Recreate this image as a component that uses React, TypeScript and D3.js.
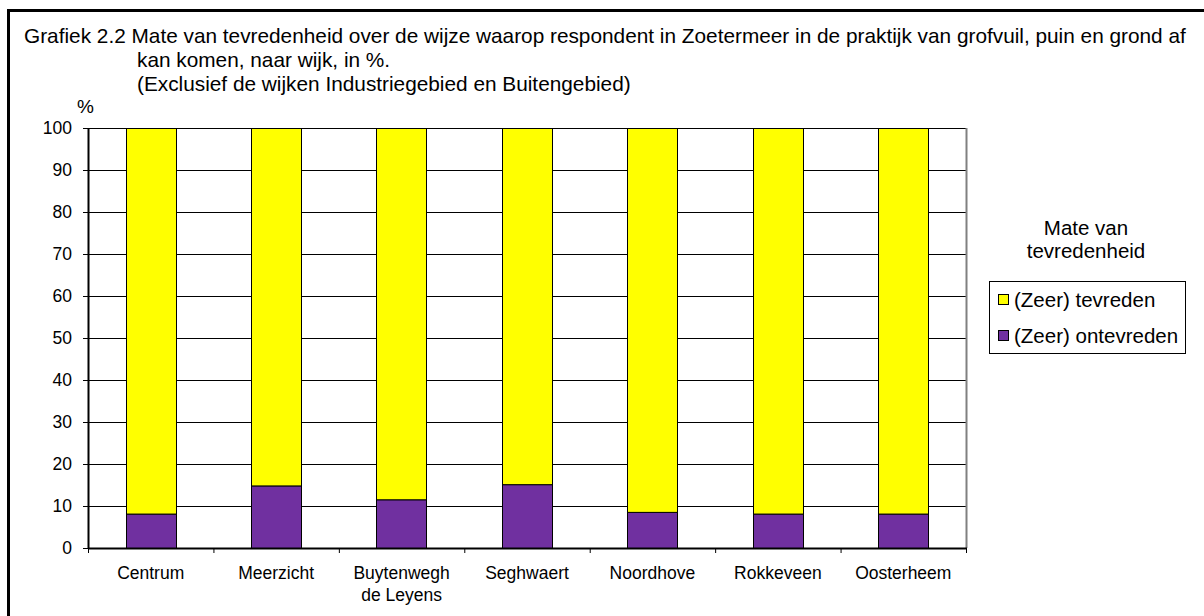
import {useEffect, useRef} from 'react';
import * as d3 from 'd3';

const wijken = ['Centrum', 'Meerzicht', 'Buytenwegh\nde Leyens', 'Seghwaert', 'Noordhove', 'Rokkeveen', 'Oosterheem'];
const ontevreden = [8.2, 14.9, 11.6, 15.2, 8.6, 8.2, 8.2];
const tevreden = ontevreden.map(v => 100 - v);
const yTicks = [0, 10, 20, 30, 40, 50, 60, 70, 80, 90, 100];
const titleLines = [
    'Grafiek 2.2  Mate van tevredenheid over de wijze waarop respondent in Zoetermeer in de praktijk van grofvuil, puin en grond af',
    'kan komen, naar wijk, in %.',
    '(Exclusief de wijken Industriegebied en Buitengebied)',
];
const legendItems = [
    {label: '(Zeer) tevreden', color: '#FFFF00'},
    {label: '(Zeer) ontevreden', color: '#7030A0'},
];

const FONT = '"Liberation Sans", Arial, sans-serif';

const App = () => {
    const ref = useRef(null);

    useEffect(() => {
        const width = 1204;
        const height = 616;
        const plot = {left: 88, right: 966, top: 128, bottom: 548};

        d3.select(ref.current).selectAll('*').remove();
        const svg = d3.select(ref.current)
            .attr('width', width)
            .attr('height', height)
            .style('font-family', FONT);

        svg.append('rect').attr('width', width).attr('height', height).attr('fill', '#fff');

        // outer frame (cut off at right and bottom)
        svg.append('rect')
            .attr('x', 8.5).attr('y', 10.5)
            .attr('width', width + 20).attr('height', height + 20)
            .attr('fill', 'none').attr('stroke', '#000').attr('stroke-width', 3);

        // title
        svg.append('text').attr('x', 24).attr('y', 43).attr('font-size', 20.8).text(titleLines[0]);
        svg.append('text').attr('x', 137).attr('y', 67).attr('font-size', 20.8).text(titleLines[1]);
        svg.append('text').attr('x', 137).attr('y', 91).attr('font-size', 20.8).text(titleLines[2]);
        svg.append('text').attr('x', 77).attr('y', 113).attr('font-size', 19).text('%');

        const x = d3.scaleBand()
            .domain(wijken)
            .range([plot.left, plot.right])
            .paddingInner(0.6)
            .paddingOuter(0.3);
        const y = d3.scaleLinear().domain([0, 100]).range([plot.bottom, plot.top]);

        // gridlines
        svg.append('g').selectAll('line')
            .data(yTicks.filter(d => d > 0))
            .enter().append('line')
            .attr('x1', plot.left).attr('x2', plot.right)
            .attr('y1', d => y(d) + 0.5).attr('y2', d => y(d) + 0.5)
            .attr('stroke', '#000').attr('stroke-width', 1);

        // right border of plot area
        svg.append('line')
            .attr('x1', plot.right + 0.5).attr('x2', plot.right + 0.5)
            .attr('y1', plot.top).attr('y2', plot.bottom)
            .attr('stroke', '#808080').attr('stroke-width', 2);

        // stacked bars
        const stackData = wijken.map((w, i) => ({wijk: w, ontevreden: ontevreden[i], tevreden: tevreden[i]}));
        const series = d3.stack().keys(['ontevreden', 'tevreden'])(stackData as any);
        const colors = {ontevreden: '#7030A0', tevreden: '#FFFF00'};
        series.forEach(s => {
            svg.append('g').selectAll('rect')
                .data(s)
                .enter().append('rect')
                .attr('x', (d: any) => Math.round(x(d.data.wijk)) + 0.5)
                .attr('y', d => y(d[1]) + 0.5)
                .attr('width', Math.round(x.bandwidth()))
                .attr('height', d => y(d[0]) - y(d[1]))
                .attr('fill', colors[s.key])
                .attr('stroke', '#000').attr('stroke-width', 1);
        });

        // y axis
        const yAxis = svg.append('g');
        yAxis.append('line')
            .attr('x1', plot.left + 0.5).attr('x2', plot.left + 0.5)
            .attr('y1', plot.top).attr('y2', plot.bottom + 1)
            .attr('stroke', '#000').attr('stroke-width', 2);
        yAxis.selectAll('line.tick')
            .data(yTicks)
            .enter().append('line')
            .attr('class', 'tick')
            .attr('x1', plot.left - 5).attr('x2', plot.left)
            .attr('y1', d => y(d) + 0.5).attr('y2', d => y(d) + 0.5)
            .attr('stroke', '#000');
        yAxis.selectAll('text')
            .data(yTicks)
            .enter().append('text')
            .attr('x', 72)
            .attr('y', d => y(d))
            .attr('dy', '0.36em')
            .attr('text-anchor', 'end')
            .attr('font-size', 17.5)
            .text(d => d);

        // x axis
        const xAxis = svg.append('g');
        xAxis.append('line')
            .attr('x1', plot.left).attr('x2', plot.right + 1)
            .attr('y1', plot.bottom + 0.5).attr('y2', plot.bottom + 0.5)
            .attr('stroke', '#000').attr('stroke-width', 2);
        const step = x.step();
        xAxis.selectAll('line.tick')
            .data(d3.range(wijken.length + 1))
            .enter().append('line')
            .attr('class', 'tick')
            .attr('x1', i => plot.left + i * step + 0.5).attr('x2', i => plot.left + i * step + 0.5)
            .attr('y1', plot.bottom).attr('y2', plot.bottom + 5)
            .attr('stroke', '#000');
        const labels = xAxis.selectAll('text')
            .data(wijken)
            .enter().append('text')
            .attr('x', d => x(d) + x.bandwidth() / 2)
            .attr('y', 579)
            .attr('text-anchor', 'middle')
            .attr('font-size', 17.5);
        labels.each(function (d) {
            d.split('\n').forEach((line, i) => {
                d3.select(this).append('tspan')
                    .attr('x', x(d) + x.bandwidth() / 2)
                    .attr('dy', i === 0 ? 0 : 22)
                    .text(line);
            });
        });

        // legend
        const lg = svg.append('g');
        lg.append('text').attr('x', 1086).attr('y', 235).attr('text-anchor', 'middle')
            .attr('font-size', 20.5).text('Mate van');
        lg.append('text').attr('x', 1086).attr('y', 258).attr('text-anchor', 'middle')
            .attr('font-size', 20.5).text('tevredenheid');
        lg.append('rect')
            .attr('x', 989.5).attr('y', 281.5).attr('width', 196).attr('height', 72)
            .attr('fill', '#fff').attr('stroke', '#000');
        legendItems.forEach((item, i) => {
            const cy = 300 + i * 36;
            lg.append('rect')
                .attr('x', 998.5).attr('y', cy - 5.5).attr('width', 10).attr('height', 10)
                .attr('fill', item.color).attr('stroke', '#000');
            lg.append('text')
                .attr('x', 1014).attr('y', cy).attr('dy', '0.36em')
                .attr('font-size', 20.5)
                .text(item.label);
        });
    }, []);

    return <svg ref={ref} style={{position: 'absolute', left: 0, top: 0, display: 'block'}}/>;
};

export default App;
